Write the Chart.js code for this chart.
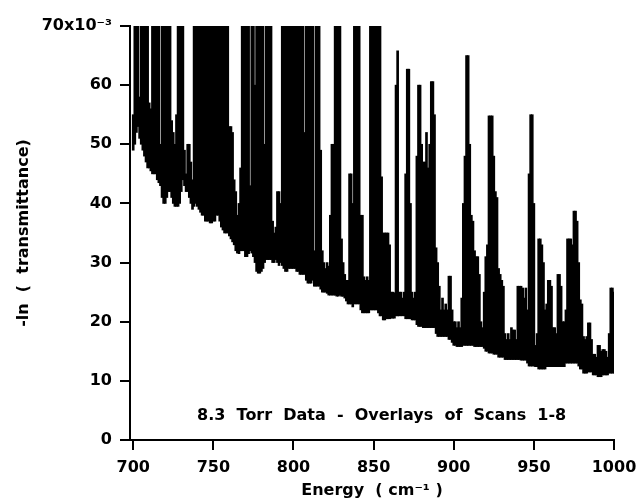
<!DOCTYPE html>
<html>
<head>
<meta charset="utf-8">
<script src="https://cdn.jsdelivr.net/npm/chart.js@4.4.1/dist/chart.umd.min.js"></script>
<style>
  body { margin: 0; background: #fff; }
  canvas { display: block; }
</style>
</head>
<body>
<canvas id="espectro" width="639" height="503"></canvas>
<script>
// Energia en cm-1: una muestra por cada cm-1, de 700 a 1000
const energiaInicio = 700;
const energiaPaso = 1;

// Envolvente superior de las 8 corridas superpuestas (x10^-3)
const absAlta = [
  55, 70, 70, 70, 58, 70, 70, 70, 70, 70,
  57, 56, 70, 70, 70, 70, 70, 50, 70, 70,
  70, 70, 70, 70, 54, 52, 50, 55, 70, 70,
  70, 70, 49, 45, 50, 50, 47, 44, 70, 70,
  70, 70, 70, 70, 70, 70, 70, 70, 70, 70,
  70, 70, 70, 70, 70, 70, 70, 70, 70, 70,
  53, 53, 52, 44, 42, 38, 40, 46, 70, 70,
  70, 70, 70, 43, 70, 70, 60, 70, 70, 70,
  70, 70, 50, 70, 70, 70, 70, 37, 35, 36,
  42, 42, 40, 70, 70, 70, 70, 70, 70, 70,
  70, 70, 70, 70, 70, 70, 70, 52, 70, 70,
  70, 70, 70, 32, 70, 70, 70, 49, 32, 30,
  29, 30, 29.4, 38, 50, 50, 70, 70, 70, 70,
  34, 30, 28, 27, 27, 45, 45, 40, 70, 70,
  70, 70, 38, 38, 27.6, 27, 27.6, 27, 70, 70,
  70, 70, 70, 70, 70, 44.5, 35, 35, 35, 35,
  33, 25, 25, 24.9, 60, 65.8, 25, 25, 24, 25,
  45, 62.7, 62.7, 40, 25, 24, 25, 48, 60, 60,
  50, 47, 47, 52, 46, 50, 60.6, 60.6, 55, 32.5,
  30, 26, 22, 24, 22, 23, 22, 27.7, 27.7, 22,
  20, 20, 19, 20, 19, 24, 40, 48, 65, 65,
  50, 38, 37, 32, 31, 31, 28, 20, 19, 25,
  31, 33, 54.8, 54.8, 54.8, 48, 42, 41, 29, 28,
  27, 26, 18, 17, 18, 17, 19, 18.6, 18.6, 17,
  26, 26, 26, 25.7, 24, 25.7, 22, 45, 55, 55,
  40, 16, 18, 34, 34, 33, 30, 22, 23, 27,
  27, 26, 19, 19, 18, 28, 28, 26, 20, 20,
  22, 34, 34, 34, 33, 38.7, 38.7, 37, 30, 23.7,
  23, 17.5, 17, 17.5, 19.8, 19.8, 17, 14.5, 14.5, 14,
  16, 16, 15, 15.3, 15.3, 15, 14, 18, 25.7, 25.7,
  25
];

// Envolvente inferior (linea base) de las corridas (x10^-3)
const absBaja = [
  49, 50, 52, 53, 51, 50, 49, 48, 47, 46,
  46, 45.5, 45, 45, 45, 44, 43.5, 43, 41, 40,
  40, 41, 42, 42, 41, 40, 39.5, 39.5, 39.5, 40,
  42, 44, 43, 42, 42, 41, 40, 39, 39.5, 40,
  39.5, 39, 38.5, 38, 38, 37, 37, 37, 36.7, 36.7,
  37, 37, 38, 38, 37, 36, 35.5, 35, 35, 35,
  34.5, 34, 33.5, 33, 32, 31.6, 31.5, 32, 32, 32,
  31, 31, 31.5, 32, 31.6, 31, 30, 28.5, 28.2, 28.2,
  28.5, 29, 30, 30.5, 30.5, 30.5, 30.5, 30, 30, 30.5,
  30, 29.5, 30, 29.5, 29, 28.5, 28.5, 29, 29, 29,
  29, 29, 28.5, 28.5, 28, 28, 28, 28, 27, 26.5,
  26.5, 26.5, 27, 26, 26, 26, 26, 25.5, 25, 25,
  25, 24.8, 24.5, 24.5, 24.5, 24.5, 24.5, 24.3, 24.3, 24.5,
  24.3, 24.3, 24, 23.5, 23, 23, 23, 22.5, 23, 23,
  23, 23, 22, 21.5, 21.5, 21.5, 21.5, 21.5, 22, 22,
  22, 22, 22, 21.5, 21, 21, 20.3, 20.3, 20.5, 20.5,
  20.5, 20.6, 20.6, 20.6, 21, 21, 21, 21, 21, 21,
  20.5, 20.5, 20.5, 20.5, 20.3, 20.3, 20.3, 19.5, 19.2, 19.2,
  19.2, 19, 19, 19, 19, 19, 19, 19, 19, 18,
  17.5, 17.5, 17.5, 17.5, 17.5, 17.5, 17.5, 17, 17, 16.5,
  16, 16, 15.8, 15.8, 15.8, 15.8, 16, 16, 16, 16,
  16, 16, 16, 15.8, 15.8, 15.8, 15.8, 15.8, 15.8, 15.5,
  15, 15, 14.7, 14.7, 14.7, 14.5, 14.5, 14.5, 14, 14,
  14, 14, 13.6, 13.6, 13.6, 13.6, 13.6, 13.6, 13.6, 13.6,
  13.6, 13.6, 13.5, 13.5, 13.5, 13.5, 13, 12.5, 12.5, 12.5,
  12.5, 12.4, 12.4, 12, 12, 12, 12, 12, 12.4, 12.4,
  12.4, 12.4, 12.4, 12.4, 12.4, 12.4, 12.4, 12.4, 12.4, 12.4,
  13, 13, 13, 13, 13, 13, 13, 13, 12.5, 12,
  12, 11.3, 11.3, 11.3, 11.5, 11.5, 11.5, 11, 11, 11,
  10.7, 10.7, 10.7, 11, 11, 11, 11, 11.3, 11.3, 11.3,
  11.3
];

// Marcas de los ejes
const ticksEnergia = [700, 750, 800, 850, 900, 950, 1000];
const ticksAbs = [0, 10, 20, 30, 40, 50, 60, 70];

const nota = '8.3  Torr  Data  -  Overlays  of  Scans  1-8';

const fuente = { family: '"DejaVu Sans", sans-serif', weight: 'bold', size: 16 };
const fuenteTitulo = { family: '"DejaVu Sans", sans-serif', weight: 'bold', size: 16 };

// Cada columna va de la base al maximo de las corridas
const puntos = absAlta.map(function(alto, i) {
  return { x: energiaInicio + i * energiaPaso, y: [absBaja[i], Math.min(alto, 70)] };
});

// Texto dentro del grafico
const notaPlugin = {
  id: 'nota',
  afterDraw: function(chart) {
    const area = chart.chartArea;
    const c = chart.ctx;
    c.save();
    c.font = 'bold 16px "DejaVu Sans", sans-serif';
    c.fillStyle = '#000';
    c.textAlign = 'center';
    c.textBaseline = 'middle';
    c.fillText(nota, area.left + (area.right - area.left) * 0.52, area.bottom - 24);
    c.restore();
  }
};

new Chart(document.getElementById('espectro'), {
  type: 'bar',
  data: {
    datasets: [{
      data: puntos,
      backgroundColor: '#000',
      borderWidth: 0,
      barThickness: 2,
      grouped: false
    }]
  },
  options: {
    responsive: false,
    animation: false,
    layout: { padding: { top: 26, right: 25, left: 0, bottom: 0 } },
    plugins: { legend: { display: false }, tooltip: { enabled: false } },
    scales: {
      x: {
        type: 'linear',
        min: 698,
        max: 1000,
        offset: false,
        afterFit: function(s) {
          s.height = 63;
          s.paddingLeft = 0;
          s.paddingRight = 0;
        },
        afterBuildTicks: function(s) { s.ticks = ticksEnergia.map(v => ({ value: v })); },
        grid: { offset: false, drawOnChartArea: false, color: '#000', lineWidth: 2, tickLength: 10 },
        border: { color: '#000', width: 2 },
        ticks: {
          color: '#000',
          font: fuente,
          padding: 8,
          maxRotation: 0,
          callback: function(v) { return String(v); }
        },
        title: {
          display: true,
          text: 'Energy  ( cm⁻¹ )',
          color: '#000',
          font: fuenteTitulo,
          padding: { top: 0, bottom: 3 }
        }
      },
      y: {
        min: 0,
        max: 70,
        afterFit: function(s) {
          s.width = 130;
          s.paddingTop = 0;
          s.paddingBottom = 0;
        },
        afterBuildTicks: function(s) { s.ticks = ticksAbs.map(v => ({ value: v })); },
        grid: { drawOnChartArea: false, color: '#000', lineWidth: 2, tickLength: 10 },
        border: { color: '#000', width: 2 },
        ticks: {
          color: '#000',
          font: fuente,
          padding: 8,
          callback: function(v) { return v === 70 ? '70x10⁻³' : String(v); }
        },
        title: {
          display: true,
          text: '-ln  (  transmittance)',
          color: '#000',
          font: fuenteTitulo,
          padding: { top: 14, bottom: 0 }
        }
      }
    }
  },
  plugins: [notaPlugin]
});
</script>
</body>
</html>
